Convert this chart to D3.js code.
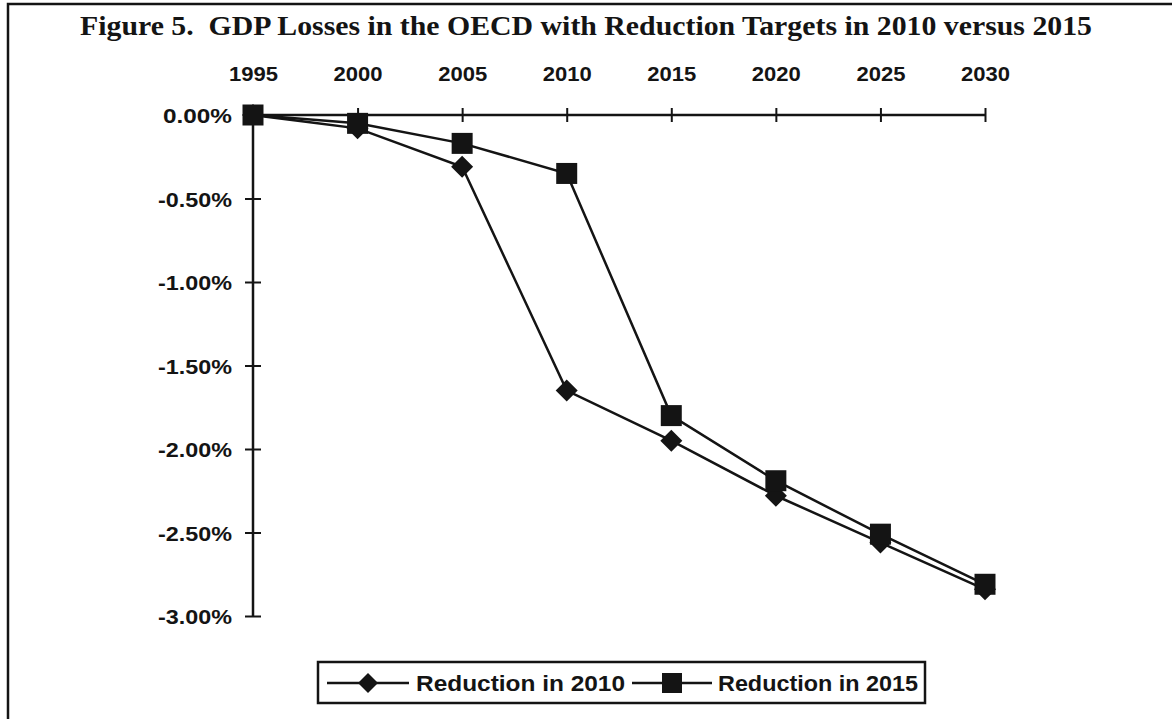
<!DOCTYPE html>
<html>
<head>
<meta charset="utf-8">
<script src="https://cdn.jsdelivr.net/npm/d3@7"></script>
<style>
  html, body { margin: 0; padding: 0; background: #fff; }
  svg { display: block; }
</style>
</head>
<body>
<svg id="chart" width="1172" height="719"></svg>
<script>
// Years along the top axis
const years = [1995, 2000, 2005, 2010, 2015, 2020, 2025, 2030];
// GDP change (percent) for each reduction scenario
const reduction2010 = [0.00, -0.08, -0.31, -1.65, -1.95, -2.28, -2.56, -2.84];
const reduction2015 = [0.00, -0.05, -0.17, -0.35, -1.80, -2.19, -2.51, -2.81];
// Value-axis ticks
const yTicks = [0, -0.5, -1.0, -1.5, -2.0, -2.5, -3.0];
const yTickLabels = ["0.00%", "-0.50%", "-1.00%", "-1.50%", "-2.00%", "-2.50%", "-3.00%"];
const seriesNames = ["Reduction in 2010", "Reduction in 2015"];

const ink = "#141414";
const svg = d3.select("#chart");

// Outer frame
svg.append("rect")
  .attr("x", 8).attr("y", 4)
  .attr("width", 1170).attr("height", 730)
  .attr("fill", "#fff").attr("stroke", ink).attr("stroke-width", 2.5);

// Title
svg.append("text")
  .attr("x", 586).attr("y", 35)
  .attr("text-anchor", "middle")
  .attr("xml:space", "preserve")
  .attr("font-family", "'Liberation Serif', 'Times New Roman', serif")
  .attr("font-weight", "bold")
  .attr("font-size", 27)
  .attr("fill", ink)
  .attr("textLength", 1012).attr("lengthAdjust", "spacingAndGlyphs")
  .text("Figure 5.\u00a0 GDP Losses in the OECD with Reduction Targets in 2010 versus 2015");

const x = d3.scalePoint().domain(years).range([253, 985]);
const y = d3.scaleLinear().domain([0, -3]).range([115, 616]);

const labelFont = "'Liberation Sans', Arial, sans-serif";

// Top (category) axis
const xAxis = d3.axisTop(x).tickSize(0).tickPadding(0).tickFormat(d3.format("d"));
const gx = svg.append("g").attr("transform", `translate(0,${y(0)})`).call(xAxis);
gx.select(".domain").remove();
gx.selectAll(".tick text")
  .attr("y", -34)
  .attr("font-family", labelFont).attr("font-weight", "bold")
  .attr("font-size", 21).attr("fill", ink)
  .attr("textLength", 49).attr("lengthAdjust", "spacingAndGlyphs");
gx.append("line")
  .attr("x1", x(years[0])).attr("x2", x(years[years.length - 1]))
  .attr("stroke", ink).attr("stroke-width", 2.5);
gx.selectAll(".tick").append("line")
  .attr("y1", -7).attr("y2", 7)
  .attr("stroke", ink).attr("stroke-width", 2);

// Left (value) axis
const yAxis = d3.axisLeft(y).tickValues(yTicks).tickSize(0).tickPadding(0)
  .tickFormat((d, i) => yTickLabels[i]);
const gy = svg.append("g").attr("transform", `translate(${x(years[0])},0)`).call(yAxis);
gy.select(".domain").remove();
gy.selectAll(".tick text")
  .attr("x", -21)
  .attr("dy", "0.36em")
  .attr("font-family", labelFont).attr("font-weight", "bold")
  .attr("font-size", 21).attr("fill", ink)
  .each(function(d, i) {
    const w = yTickLabels[i].startsWith("-") ? 74 : 69;
    d3.select(this).attr("textLength", w).attr("lengthAdjust", "spacingAndGlyphs");
  });
gy.append("line")
  .attr("y1", y(0)).attr("y2", y(-3))
  .attr("stroke", ink).attr("stroke-width", 2.5);
gy.selectAll(".tick").append("line")
  .attr("x1", -8).attr("x2", 8)
  .attr("stroke", ink).attr("stroke-width", 2);

// Series lines and markers
const line = d3.line().x((d, i) => x(years[i])).y(d => y(d));
const diamond = s => `M0,${-s}L${s},0L0,${s}L${-s},0Z`;
const square = s => `M${-s},${-s}H${s}V${s}H${-s}Z`;

const plot = svg.append("g");
plot.append("path").datum(reduction2010)
  .attr("d", line).attr("fill", "none").attr("stroke", ink).attr("stroke-width", 2.5);
plot.append("path").datum(reduction2015)
  .attr("d", line).attr("fill", "none").attr("stroke", ink).attr("stroke-width", 2.5);

plot.selectAll(".m2010").data(reduction2010).join("path")
  .attr("class", "m2010")
  .attr("transform", (d, i) => `translate(${x(years[i])},${y(d)})`)
  .attr("d", diamond(11)).attr("fill", ink);
plot.selectAll(".m2015").data(reduction2015).join("path")
  .attr("class", "m2015")
  .attr("transform", (d, i) => `translate(${x(years[i])},${y(d)})`)
  .attr("d", square(10.5)).attr("fill", ink);

// Legend
const lg = svg.append("g");
lg.append("rect")
  .attr("x", 318).attr("y", 662).attr("width", 607).attr("height", 41)
  .attr("fill", "#fff").attr("stroke", ink).attr("stroke-width", 2.5);
const items = [
  { x0: 327, x1: 409, tx: 416, tl: 209, shape: diamond(10) },
  { x0: 632, x1: 712, tx: 718, tl: 200, shape: square(10) }
];
items.forEach((it, i) => {
  lg.append("line").attr("x1", it.x0).attr("x2", it.x1).attr("y1", 683).attr("y2", 683)
    .attr("stroke", ink).attr("stroke-width", 2.5);
  lg.append("path").attr("transform", `translate(${(it.x0 + it.x1) / 2},683)`)
    .attr("d", it.shape).attr("fill", ink);
  lg.append("text").attr("x", it.tx).attr("y", 683).attr("dy", "0.36em")
    .attr("font-family", labelFont).attr("font-weight", "bold")
    .attr("font-size", 22).attr("fill", ink)
    .attr("textLength", it.tl).attr("lengthAdjust", "spacingAndGlyphs")
    .text(seriesNames[i]);
});
</script>
</body>
</html>
